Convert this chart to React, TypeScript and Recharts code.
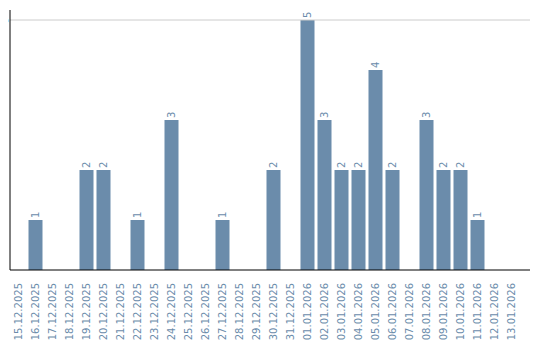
import { BarChart, Bar, XAxis, YAxis, ReferenceLine, LabelList } from 'recharts';

const dates = [
  '15.12.2025', '16.12.2025', '17.12.2025', '18.12.2025', '19.12.2025', '20.12.2025',
  '21.12.2025', '22.12.2025', '23.12.2025', '24.12.2025', '25.12.2025', '26.12.2025',
  '27.12.2025', '28.12.2025', '29.12.2025', '30.12.2025', '31.12.2025', '01.01.2026',
  '02.01.2026', '03.01.2026', '04.01.2026', '05.01.2026', '06.01.2026', '07.01.2026',
  '08.01.2026', '09.01.2026', '10.01.2026', '11.01.2026', '12.01.2026', '13.01.2026',
];

const counts = [0, 1, 0, 0, 2, 2, 0, 1, 0, 3, 0, 0, 1, 0, 0, 2, 0, 5, 3, 2, 2, 4, 2, 0, 3, 2, 2, 1, 0, 0];

const yTicks = [5];

const barColor = '#6b8cab';
const font = '"DejaVu Sans", sans-serif';

const data = dates.map((d, i) => ({ date: d, count: counts[i] }));

function DateTick({ x, y, payload }: any) {
  return (
    <text
      x={x}
      y={y + 5}
      transform={`rotate(-90, ${x}, ${y + 5})`}
      textAnchor="end"
      dominantBaseline="central"
      fill={barColor}
      fontSize={10}
      fontFamily={font}
    >
      {payload.value}
    </text>
  );
}

function ValueTick({ x, y, payload }: any) {
  // baseline sits just left of the axis line, glyph reads bottom-to-top
  return (
    <text
      x={x}
      y={y}
      transform={`rotate(-90, ${x}, ${y})`}
      textAnchor="middle"
      fill="#000"
      fontSize={9}
      fontFamily={font}
    >
      {payload.value}
    </text>
  );
}

function BarLabel({ x, y, width, value }: any) {
  if (!value) return null;
  const cx = x + width / 2;
  const cy = y - 2;
  return (
    <text
      x={cx}
      y={cy}
      transform={`rotate(-90, ${cx}, ${cy})`}
      textAnchor="start"
      dominantBaseline="central"
      fill={barColor}
      fontSize={10}
      fontFamily={font}
    >
      {value}
    </text>
  );
}

export default function App() {
  return (
    <div style={{ margin: '-8px 0 0 -8px', width: 540, height: 340 }}>
      <BarChart
        width={540}
        height={340}
        data={data}
        margin={{ top: 10, right: 10, bottom: 0, left: 0 }}
        barCategoryGap={1.5}
      >
        {yTicks.map((t) => (
          <ReferenceLine key={t} y={t} stroke="#cccccc" />
        ))}
        <XAxis
          dataKey="date"
          interval={0}
          height={70}
          tick={(p: any) => <DateTick {...p} />}
          tickLine={false}
          axisLine={{ stroke: '#000' }}
          padding={{ left: 0, right: 10 }}
        />
        <YAxis
          width={10}
          type="number"
          domain={[0, 5.2]}
          ticks={yTicks}
          interval={0}
          tick={(p: any) => <ValueTick {...p} />}
          tickSize={0}
          tickMargin={2}
          tickLine={false}
          axisLine={{ stroke: '#000' }}
        />
        <Bar dataKey="count" fill={barColor} isAnimationActive={false}>
          <LabelList dataKey="count" content={<BarLabel />} />
        </Bar>
      </BarChart>
    </div>
  );
}
